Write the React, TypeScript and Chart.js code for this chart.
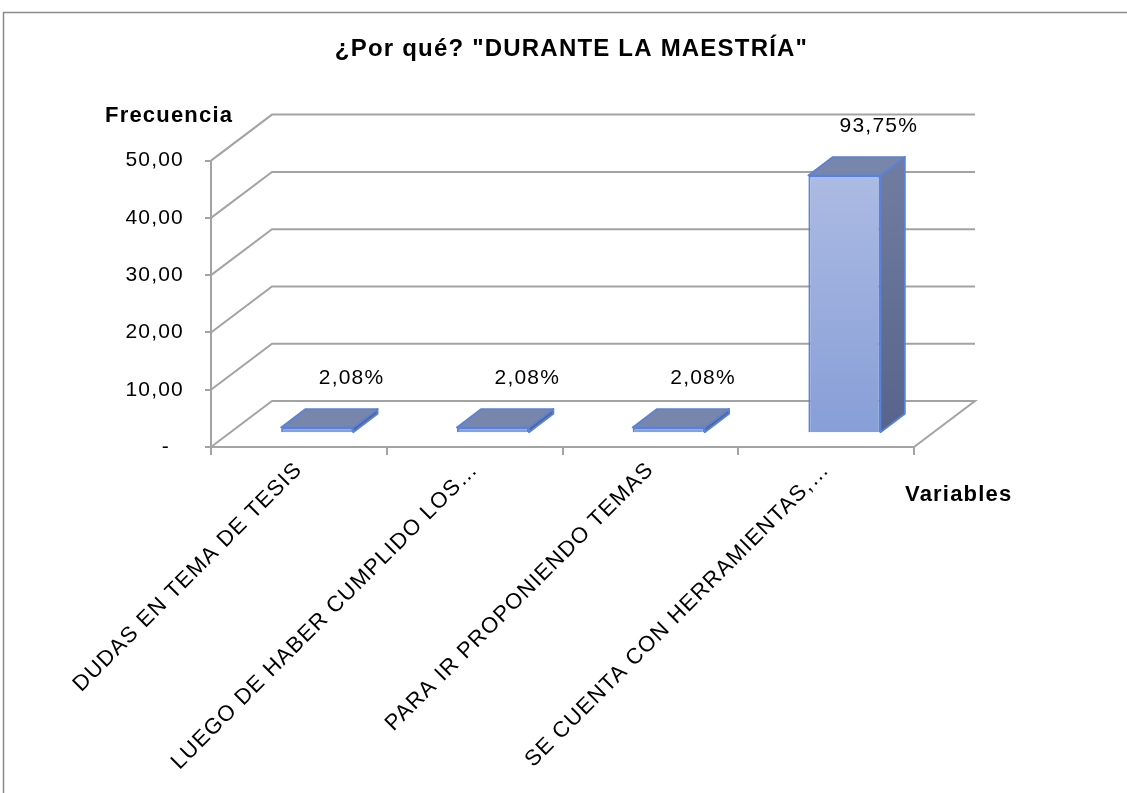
import React, { useEffect, useRef } from 'react';
import { Chart, registerables } from 'chart.js';

Chart.register(...registerables);

const TITLE = '¿Por qué? "DURANTE LA MAESTRÍA"';
const CATEGORIES = [
  'DUDAS EN TEMA DE TESIS',
  'LUEGO DE HABER CUMPLIDO LOS…',
  'PARA IR PROPONIENDO TEMAS',
  'SE CUENTA CON HERRAMIENTAS,…',
];
const FREQUENCIES = [1, 1, 1, 45];
const PERCENT_LABELS = ['2,08%', '2,08%', '2,08%', '93,75%'];
const Y_MIN = 0;
const Y_MAX = 50;
const Y_STEP = 10;
const Y_AXIS_TITLE = 'Frecuencia';
const X_AXIS_TITLE = 'Variables';

const FONT = 'Arial, "Liberation Sans", sans-serif';
const GRID = '#A3A3A3';
const WALL = { dx: 61, dy: -46 };
const BAR_FRONT = 0.3;
const BAR_DEPTH = 0.4;
const LETTER = '1.2px';

const fmtTick = (v: number) => (v === 0 ? '-  ' : v.toFixed(2).replace('.', ','));

const threeD = {
  id: 'threeD',
  beforeUpdate(chart: any) {
    try { chart.ctx.letterSpacing = LETTER; } catch (e) {}
  },
  beforeDraw(chart: any) {
    try { chart.ctx.letterSpacing = LETTER; } catch (e) {}
  },
  beforeDatasetsDraw(chart: any) {
    const { ctx, chartArea: a, scales } = chart;
    const y = scales.y;
    ctx.save();
    ctx.strokeStyle = GRID;
    ctx.lineWidth = 2;
    for (let v = Y_MIN; v <= Y_MAX; v += Y_STEP) {
      const py = y.getPixelForValue(v);
      ctx.beginPath();
      ctx.moveTo(a.left, py);
      ctx.lineTo(a.left + WALL.dx, py + WALL.dy);
      ctx.lineTo(a.right + WALL.dx, py + WALL.dy);
      if (v === Y_MIN) ctx.lineTo(a.right, py);
      ctx.stroke();
    }
    ctx.restore();
    ctx.save();
    ctx.translate(WALL.dx * BAR_FRONT, WALL.dy * BAR_FRONT);
  },
  afterDatasetsDraw(chart: any) {
    const { ctx, chartArea: a } = chart;
    ctx.restore();
    const meta = chart.getDatasetMeta(0);
    const fx = WALL.dx * BAR_FRONT;
    const fy = WALL.dy * BAR_FRONT;
    const dx = WALL.dx * BAR_DEPTH;
    const dy = WALL.dy * BAR_DEPTH;
    meta.data.forEach((el: any, i: number) => {
      const { x, y, base, width } = el.getProps(['x', 'y', 'base', 'width'], true);
      const l = x - width / 2 + fx;
      const r = x + width / 2 + fx;
      const t = y + fy;
      const b = base + fy;
      ctx.save();
      ctx.lineJoin = 'round';
      ctx.strokeStyle = '#5A82D8';
      ctx.lineWidth = 1.8;
      const sg = ctx.createLinearGradient(0, a.top, 0, a.bottom);
      sg.addColorStop(0, '#717DA0');
      sg.addColorStop(1, '#55638B');
      ctx.beginPath();
      ctx.moveTo(r, t);
      ctx.lineTo(r + dx, t + dy);
      ctx.lineTo(r + dx, b + dy);
      ctx.lineTo(r, b);
      ctx.closePath();
      ctx.fillStyle = sg;
      ctx.fill();
      ctx.stroke();
      ctx.beginPath();
      ctx.moveTo(l, t);
      ctx.lineTo(r, t);
      ctx.lineTo(r + dx, t + dy);
      ctx.lineTo(l + dx, t + dy);
      ctx.closePath();
      ctx.fillStyle = '#7886AC';
      ctx.fill();
      ctx.stroke();
      ctx.fillStyle = '#000';
      ctx.font = `21px ${FONT}`;
      ctx.textAlign = 'center';
      ctx.textBaseline = 'middle';
      ctx.fillText(PERCENT_LABELS[i], x + fx + dx + 10, t + dy - 31);
      ctx.restore();
    });
  },
  afterDraw(chart: any) {
    const { ctx, chartArea: a } = chart;
    ctx.save();
    ctx.fillStyle = '#000';
    ctx.font = `bold 22px ${FONT}`;
    ctx.textBaseline = 'middle';
    ctx.textAlign = 'left';
    ctx.fillText(Y_AXIS_TITLE, 105, 116);
    ctx.fillText(X_AXIS_TITLE, a.right - 9, 495);
    ctx.strokeStyle = '#8A8A8A';
    ctx.lineWidth = 1.5;
    ctx.beginPath();
    ctx.moveTo(3.5, 900);
    ctx.lineTo(3.5, 12.5);
    ctx.lineTo(1200, 12.5);
    ctx.stroke();
    ctx.restore();
  },
};

export default function App() {
  const ref = useRef<HTMLCanvasElement>(null);
  useEffect(() => {
    document.body.style.margin = '0';
    const canvas = ref.current!;
    const chart = new Chart(canvas, {
      type: 'bar',
      data: {
        labels: CATEGORIES,
        datasets: [
          {
            data: FREQUENCIES,
            backgroundColor: (c: any) => {
              const ca = c.chart.chartArea;
              if (!ca) return '#9AAEDD';
              const g = c.chart.ctx.createLinearGradient(0, ca.top, 0, ca.bottom);
              g.addColorStop(0, '#B0BEE4');
              g.addColorStop(1, '#879ED7');
              return g;
            },
            borderColor: '#5A82D8',
            borderWidth: 2,
            barPercentage: 0.41,
            categoryPercentage: 1,
            clip: false,
          },
        ],
      },
      options: {
        responsive: false,
        animation: false,
        events: [],
        layout: { padding: { left: 16, right: 0, top: 0, bottom: 0 } },
        plugins: {
          legend: { display: false },
          tooltip: { enabled: false },
          title: {
            display: true,
            text: TITLE,
            color: '#000',
            font: { family: FONT, size: 24, weight: 'bold' },
            padding: { top: 35, bottom: 96.8 },
          },
        },
        scales: {
          x: {
            offset: true,
            grid: { display: true, drawOnChartArea: false, drawTicks: true, tickLength: 8, color: GRID, lineWidth: 2, offset: true },
            border: { display: true, color: GRID, width: 2 },
            ticks: {
              autoSkip: false,
              minRotation: 45,
              maxRotation: 45,
              color: '#000',
              font: { family: FONT, size: 22 },
              padding: 2,
            },
            afterFit: (s: any) => { s.height = 346; },
          },
          y: {
            min: Y_MIN,
            max: Y_MAX,
            grid: { display: true, drawOnChartArea: false, drawTicks: true, tickLength: 6, color: GRID, lineWidth: 2 },
            border: { display: true, color: GRID, width: 2 },
            ticks: {
              stepSize: Y_STEP,
              color: '#000',
              font: { family: FONT, size: 21 },
              padding: 21,
              callback: (v: any) => fmtTick(Number(v)),
            },
            afterFit: (s: any) => { s.width = 195; },
          },
          y2: {
            position: 'right',
            display: true,
            grid: { display: false },
            border: { display: false },
            ticks: { display: false },
            afterFit: (s: any) => { s.width = 213; },
          },
        },
      },
      plugins: [threeD],
    } as any);
    return () => chart.destroy();
  }, []);
  return <canvas ref={ref} width={1127} height={793} style={{ display: 'block' }} />;
}
